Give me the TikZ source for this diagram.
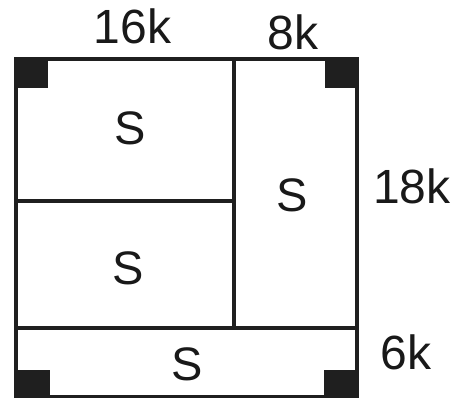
\documentclass[tikz,border=0pt]{standalone}
\usepackage{fontspec}
\setmainfont{Liberation Sans}
\begin{document}
\begin{tikzpicture}[x=1pt,y=-1pt,
  wall/.style={line width=4pt,draw=black!88},
  post/.style={fill=black!88},
  lbl/.style={font=\fontsize{48}{48}\selectfont,text=black!90,inner sep=0pt},
  room/.style={font=\fontsize{47}{47}\selectfont,text=black!90,inner sep=0pt}]
\useasboundingbox (0,0) rectangle (452,398);
% corner posts
\fill[post] (14,57) rectangle (48,88);
\fill[post] (325,57) rectangle (359,88);
\fill[post] (14,370) rectangle (50,400);
\fill[post] (324,370) rectangle (359,400);
% coordinates
\coordinate (tl) at (16,58.7);
\coordinate (tr) at (356.5,58.7);
\coordinate (bl) at (16,397);
\coordinate (br) at (356.5,397);
\coordinate (vt) at (234,58.7);
\coordinate (vb) at (234,327.5);
\coordinate (ml) at (16,327.5);
\coordinate (mr) at (356.5,327.5);
\coordinate (hl) at (16,200.5);
\coordinate (hr) at (234,200.5);
% walls
\draw[wall] (tl) -- (tr) -- (br) -- (bl) -- cycle;
\draw[wall] (vt) -- (vb);
\draw[wall] (ml) -- (mr);
\draw[wall] (hl) -- (hr);
% room labels
\node[room] (s1) at (130,128) {S};
\node[room] (s2) at (292,195) {S};
\node[room] (s3) at (128,268) {S};
\node[room] (s4) at (187,364) {S};
% dimension labels
\node[lbl] (d16) at (132.5,26) {16k};
\node[lbl] (d8) at (293,32) {8k};
\node[lbl] (d18) at (412,186) {18k};
\node[lbl] (d6) at (406,352) {6k};
\end{tikzpicture}
\end{document}
